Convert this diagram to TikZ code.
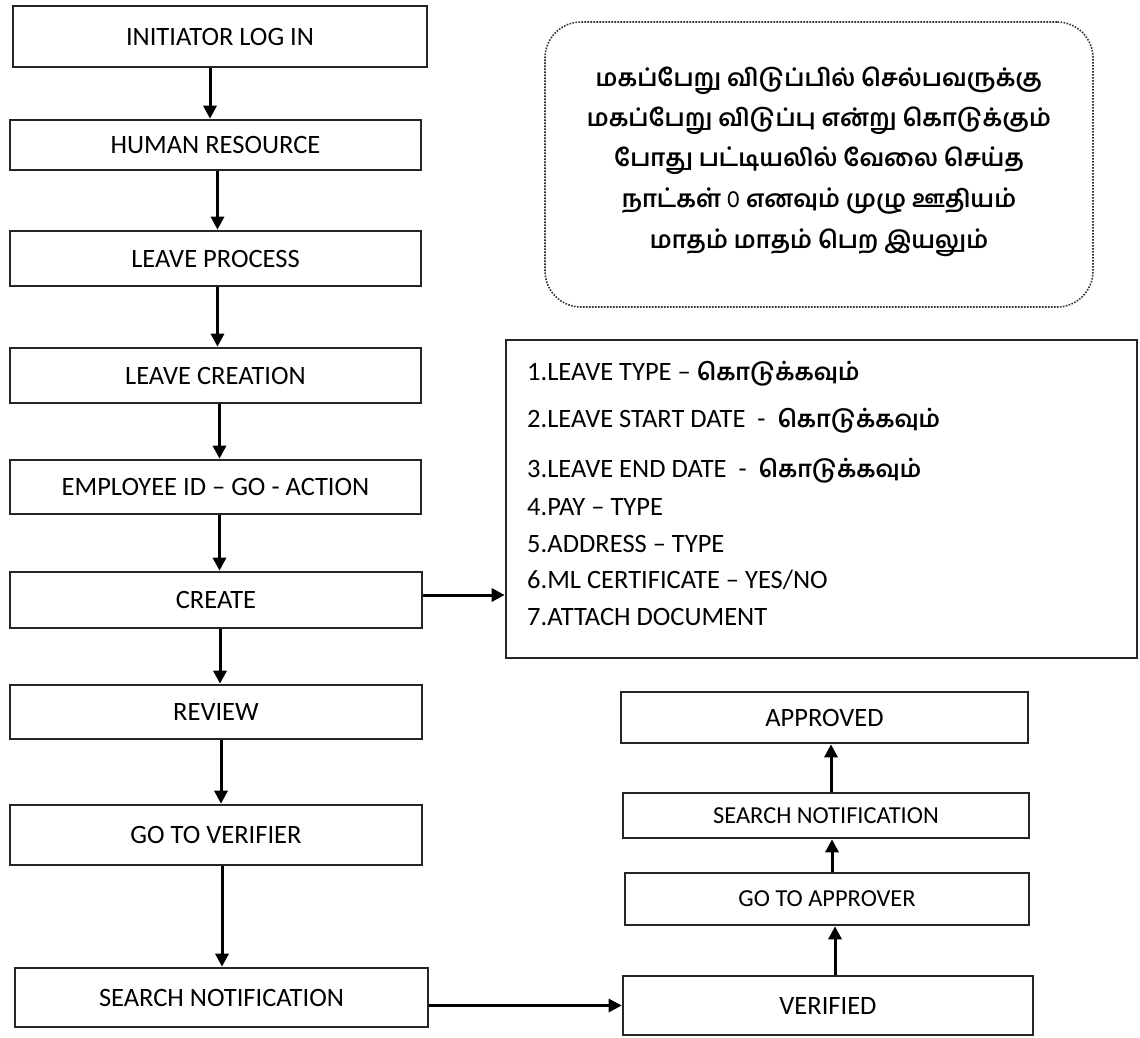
\documentclass[tikz,border=0pt]{standalone}
\usepackage{fontspec}
\setmainfont{Carlito}
\newfontfamily\tamil[Script=Tamil]{Hind Madurai}
\usetikzlibrary{arrows.meta}

\newcommand{\givefield}{{\tamil\bfseries\fontsize{23.5}{28}\selectfont கொடுக்கவும்}}

\begin{document}
\begin{tikzpicture}[x=1pt,y=-1pt,
  stepbox/.style={draw=black!85, line width=2.6pt, rectangle, inner sep=0pt,
    font=\fontsize{26.5}{30}\selectfont},
  flow/.style={draw=black, line width=3pt, -{Triangle[length=13pt,width=13pt]}},
  item/.style={anchor=base west, inner sep=0pt, font=\fontsize{26.5}{30}\selectfont},
  note/.style={anchor=base, inner sep=0pt, font=\tamil\bfseries\fontsize{24}{30}\selectfont},
]
\useasboundingbox[fill=white] (0,0) rectangle (1140,1038);

% main column
\node[stepbox, minimum width=414, minimum height=61] (login)  at (220,36.5)   {INITIATOR LOG IN};
\node[stepbox, minimum width=411, minimum height=50] (hr)     at (215.5,145)  {HUMAN RESOURCE};
\node[stepbox, minimum width=411, minimum height=55] (lp)     at (215.5,258.5){LEAVE PROCESS};
\node[stepbox, minimum width=411, minimum height=55] (lc)     at (215.5,375.5){LEAVE CREATION};
\node[stepbox, minimum width=411, minimum height=54] (emp)    at (215.5,487)  {EMPLOYEE ID – GO - ACTION};
\node[stepbox, minimum width=412, minimum height=56] (create) at (216,600)    {CREATE};
\node[stepbox, minimum width=412, minimum height=54] (review) at (216,712)    {REVIEW};
\node[stepbox, minimum width=412, minimum height=60] (gtv)    at (216,835)    {GO TO VERIFIER};
\node[stepbox, minimum width=413, minimum height=59] (sn)     at (221.5,997.5){SEARCH NOTIFICATION};

% approval column
\node[stepbox, minimum width=407, minimum height=51] (appr) at (824.5,717.5) {APPROVED};
\node[stepbox, minimum width=406, minimum height=45, font=\fontsize{24.4}{28}\selectfont] (sn2) at (826,815.5) {SEARCH NOTIFICATION};
\node[stepbox, minimum width=404, minimum height=52, font=\fontsize{24.4}{28}\selectfont] (gta) at (827,899) {GO TO APPROVER};
\node[stepbox, minimum width=410, minimum height=59] (ver)  at (828,1005.5) {VERIFIED};

% field list
\node[stepbox, minimum width=631, minimum height=318] (list) at (821.5,499) {};
\node[item] (f1) at (527,380) {1.LEAVE TYPE – \givefield};
\node[item] (f2) at (527,427) {2.LEAVE START DATE \ - \ \givefield};
\node[item] (f3) at (527,477) {3.LEAVE END DATE \ - \ \givefield};
\node[item] (f4) at (527,515) {4.PAY – TYPE};
\node[item] (f5) at (527,552) {5.ADDRESS – TYPE};
\node[item] (f6) at (527,588) {6.ML CERTIFICATE – YES/NO};
\node[item] (f7) at (527,625) {7.ATTACH DOCUMENT};

% maternity leave note
\node[draw=black!80, line width=1.6pt, dash pattern=on 1.6pt off 1.4pt,
  rounded corners=36pt, minimum width=548, minimum height=285] (notebox) at (819,164.5) {};
\node[note] (t1) at (819,87)  {மகப்பேறு விடுப்பில் செல்பவருக்கு};
\node[note] (t2) at (819,127) {மகப்பேறு விடுப்பு என்று கொடுக்கும்};
\node[note] (t3) at (819,166) {போது பட்டியலில் வேலை செய்த};
\node[note] (t4) at (819,207) {நாட்கள் {\mdseries 0} எனவும் முழு ஊதியம்};
\node[note] (t5) at (819,248) {மாதம் மாதம் பெற இயலும்};

% connectors
\draw[flow] ([xshift=-10pt]login.south) -- ([xshift=-10pt]login.south |- hr.north);
\draw[flow] ([xshift=2pt]hr.south) -- ([xshift=2pt]hr.south |- lp.north);
\draw[flow] ([xshift=2pt]lp.south) -- ([xshift=2pt]lp.south |- lc.north);
\draw[flow] ([xshift=4pt]lc.south) -- ([xshift=4pt]lc.south |- emp.north);
\draw[flow] ([xshift=4pt]emp.south) -- ([xshift=4pt]emp.south |- create.north);
\draw[flow] ([xshift=4pt]create.south) -- ([xshift=4pt]create.south |- review.north);
\draw[flow] ([xshift=5pt]review.south) -- ([xshift=5pt]review.south |- gtv.north);
\draw[flow] ([xshift=6pt]gtv.south) -- ([xshift=6pt]gtv.south |- sn.north);
\draw[flow] ([yshift=5pt]create.east) -- ([yshift=5pt]create.east -| list.west);
\draw[flow] (sn.east |- ver.west) -- (ver.west);
\draw[flow] ([xshift=7pt]ver.north) -- ([xshift=7pt]ver.north |- gta.south);
\draw[flow] ([xshift=5pt]gta.north) -- ([xshift=5pt]gta.north |- sn2.south);
\draw[flow] ([xshift=5pt]sn2.north) -- ([xshift=5pt]sn2.north |- appr.south);
\end{tikzpicture}
\end{document}
